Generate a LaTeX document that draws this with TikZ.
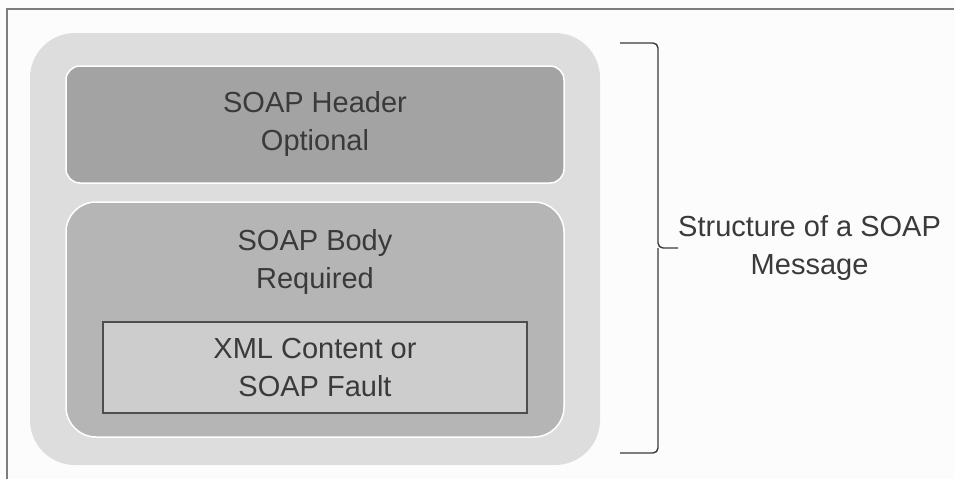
\documentclass[tikz,border=0pt]{standalone}
\usepackage{fontspec}
\setmainfont{Liberation Sans}
\usetikzlibrary{positioning}
\definecolor{envgray}{RGB}{220,221,220}
\definecolor{headgray}{RGB}{163,163,163}
\definecolor{bodygray}{RGB}{181,181,181}
\definecolor{xmlgray}{RGB}{205,205,205}
\definecolor{inkgray}{RGB}{58,58,58}
\definecolor{framegray}{RGB}{125,125,125}
\tikzset{
  soapfont/.style  = {font=\fontsize{29}{38}\selectfont, text=inkgray, align=center},
  soapouter/.style = {rounded corners=45pt, fill=envgray, minimum width=570pt,
                      minimum height=432pt, inner sep=0pt},
  % header and body get a thin white rim, like the original
  soaphead/.style  = {soapfont, rounded corners=14pt, fill=headgray, draw=white,
                      line width=1.5pt, minimum width=498pt, minimum height=117pt},
  soapbody/.style  = {soaphead, rounded corners=30pt, fill=bodygray,
                      minimum height=235pt},
  soapxml/.style   = {soapfont, fill=xmlgray, draw=inkgray!90, line width=1.4pt,
                      minimum width=424pt, minimum height=91pt, inner sep=0pt},
  msglabel/.style  = {soapfont, inner sep=0pt},
  bracket/.style   = {draw=inkgray, line width=1.4pt, rounded corners=5pt},
}

\begin{document}
\begin{tikzpicture}[x=1pt, y=-1pt]
    \useasboundingbox[fill=white!99!black] (0,0) rectangle (954,479);
    \draw[framegray, line width=1.5pt] (7,479) -- (7,9) -- (954,9);

    \node[soapouter] (env) at (315, 249) {};
    \node[soaphead] (head) at (315, 124.5) {SOAP Header\\Optional};
    \node[soapbody] (body) at (315, 319.5) {};
    \node[soapfont, inner sep=0pt] (bodytxt) at (315, 262) {SOAP Body\\Required};
    \node[soapxml] (xml) at (315, 367.5) {XML Content or\\SOAP Fault};

    % brace to the right of the envelope
    \coordinate (btop) at (620, 43);
    \coordinate (bbot) at (620, 453);
    \coordinate (tip) at (678, 248);
    \draw[bracket] (btop) -| (658, 248) -- (tip);
    \draw[bracket] (bbot) -| (658, 248);

    \node[msglabel, right=0pt of tip] (msg) {Structure of a SOAP\\Message};
\end{tikzpicture}
\end{document}
